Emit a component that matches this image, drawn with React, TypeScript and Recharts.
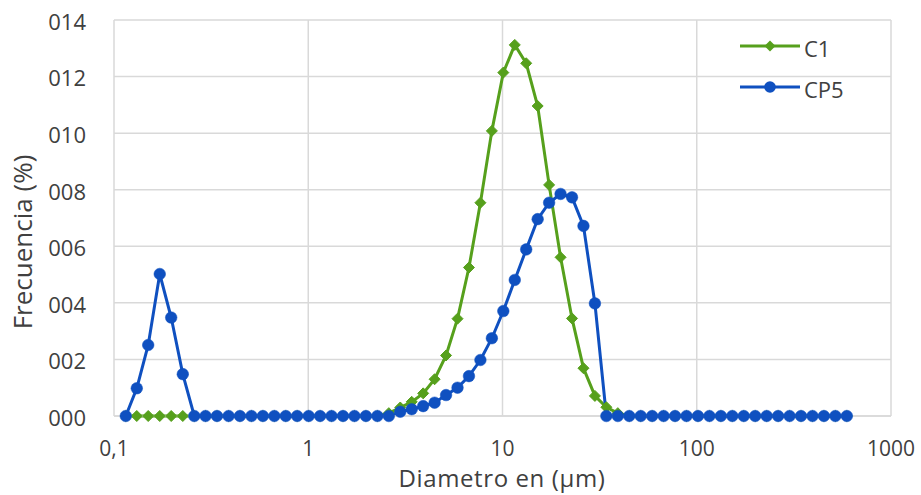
import React from "react";
import { LineChart, Line, XAxis, YAxis, CartesianGrid, Legend } from "recharts";

// Particle diameters (µm), log-spaced bins
const diameters = [
  0.115, 0.131, 0.15, 0.172, 0.197, 0.226, 0.259, 0.296, 0.339, 0.389, 0.445, 0.51, 0.584, 0.669, 0.766, 0.877,
  1.005, 1.151, 1.318, 1.51, 1.729, 1.981, 2.269, 2.599, 2.976, 3.409, 3.905, 4.472, 5.122, 5.867, 6.72, 7.697,
  8.816, 10.097, 11.565, 13.246, 15.172, 17.377, 19.904, 22.797, 26.111, 29.907, 34.255, 39.234, 44.938, 51.471,
  58.953, 67.523, 77.339, 88.583, 101.46, 116.21, 133.103, 152.453, 174.616, 200.0, 229.075, 262.376, 300.518,
  344.206, 394.244, 451.556, 517.2, 592.387,
];

const c1Values = [
  0, 0, 0, 0, 0, 0, 0, 0, 0, 0, 0, 0, 0, 0, 0, 0,
  0, 0, 0, 0, 0, 0, 0, 0.0001, 0.0003, 0.0005, 0.0008, 0.0013, 0.00214, 0.00344, 0.00525, 0.00754,
  0.01008, 0.01214, 0.01312, 0.01247, 0.01096, 0.00817, 0.00561, 0.00345, 0.00169, 0.00071, 0.00031, 0.0001, 0, 0,
  0, 0, 0, 0, 0, 0, 0, 0, 0, 0, 0, 0, 0,
  0, 0, 0, 0, 0,
];

const cp5Values = [
  0, 0.00098, 0.00251, 0.00502, 0.00348, 0.00148, 0, 0, 0, 0, 0, 0, 0, 0, 0, 0,
  0, 0, 0, 0, 0, 0, 0, 0, 0.00015, 0.00024, 0.00035, 0.00047, 0.00074, 0.001, 0.00141, 0.00198,
  0.00275, 0.00371, 0.00481, 0.00589, 0.00696, 0.00754, 0.00785, 0.00773, 0.00672, 0.00398, 0, 0, 0, 0,
  0, 0, 0, 0, 0, 0, 0, 0, 0, 0, 0, 0, 0,
  0, 0, 0, 0, 0,
];

const xTicks = [0.1, 1, 10, 100, 1000];
const xTickLabels = ["0,1", "1", "10", "100", "1000"];
const yTicks = [0, 0.002, 0.004, 0.006, 0.008, 0.01, 0.012, 0.014];
const yTickLabels = ["000", "002", "004", "006", "008", "010", "012", "014"];

const seriesNames = ["C1", "CP5"];
const GREEN = "#56a01c";
const BLUE = "#0f50c0";
const TEXT = "#404040";
const GRID = "#d9d9d9";
const FONT = "'Open Sans', sans-serif";

const data = diameters.map((d, i) => ({ d, c1: c1Values[i], cp5: cp5Values[i] }));

const Diamond = (props: any) => {
  const { cx, cy, index } = props;
  if (cx == null || cy == null) return <g key={`dm-${index}`} />;
  const r = 5.5;
  return (
    <path
      key={`dm-${index}`}
      d={`M${cx},${cy - r}L${cx + r},${cy}L${cx},${cy + r}L${cx - r},${cy}Z`}
      fill={GREEN}
      stroke={GREEN}
      strokeWidth={1}
    />
  );
};

const Circle = (props: any) => {
  const { cx, cy, index } = props;
  if (cx == null || cy == null) return <g key={`ci-${index}`} />;
  return <circle key={`ci-${index}`} cx={cx} cy={cy} r={5.8} fill={BLUE} stroke={BLUE} strokeWidth={0.5} />;
};

const LegendContent = () => (
  <svg width={130} height={70} style={{ overflow: "visible", display: "block" }}>
    <line x1={0} y1={16} x2={60} y2={16} stroke={GREEN} strokeWidth={3} />
    <path d="M30,10.5L35.5,16L30,21.5L24.5,16Z" fill={GREEN} />
    <text x={64} y={19} dy="0.35em" fontSize={22} fontFamily={FONT} fill={TEXT}>
      {seriesNames[0]}
    </text>
    <line x1={0} y1={57} x2={60} y2={57} stroke={BLUE} strokeWidth={3} />
    <circle cx={30} cy={57} r={5.8} fill={BLUE} />
    <text x={64} y={60} dy="0.35em" fontSize={22} fontFamily={FONT} fill={TEXT}>
      {seriesNames[1]}
    </text>
  </svg>
);

export default function App() {
  return (
    <div style={{ position: "absolute", left: 0, top: 0, width: 921, height: 495, background: "#fff" }}>
      <LineChart width={921} height={495} data={data} margin={{ top: 20, right: 30, bottom: 19, left: 0 }}>
        <CartesianGrid stroke={GRID} strokeWidth={1.5} />
        <XAxis
          dataKey="d"
          type="number"
          scale="log"
          domain={[0.1, 1000]}
          ticks={xTicks}
          allowDataOverflow
          tickFormatter={(v: number) => xTickLabels[xTicks.indexOf(v)] ?? String(v)}
          tickLine={false}
          axisLine={{ stroke: GRID, strokeWidth: 1.5 }}
          tick={{ fill: TEXT, fontSize: 21, fontFamily: FONT }}
          tickMargin={19}
          height={60}
          label={{
            content: () => (
              <text x={502} y={487} textAnchor="middle" fontSize={24} letterSpacing={0.6} fontFamily={FONT} fill={TEXT}>
                Diametro en (µm)
              </text>
            ),
          }}
        />
        <YAxis
          type="number"
          domain={[0, 0.014]}
          ticks={yTicks}
          tickFormatter={(v: number) => yTickLabels[yTicks.findIndex((t) => Math.abs(t - v) < 1e-9)] ?? ""}
          tickLine={false}
          axisLine={false}
          tick={{ fill: TEXT, fontSize: 22, fontFamily: FONT, dy: 2 }}
          tickMargin={22}
          width={114}
          label={{
            content: () => (
              <text
                x={32}
                y={242}
                textAnchor="middle"
                transform="rotate(-90 32 242)"
                fontSize={26}
                fontFamily={FONT}
                fill={TEXT}
              >
                Frecuencia (%)
              </text>
            ),
          }}
        />
        <Legend
          layout="vertical"
          verticalAlign="middle"
          align="center"
          content={<LegendContent />}
          wrapperStyle={{ position: "absolute", left: 740, top: 30, width: 130, height: 70 }}
        />
        <Line
          type="linear"
          dataKey="c1"
          name={seriesNames[0]}
          stroke={GREEN}
          strokeWidth={3}
          dot={Diamond}
          activeDot={false}
          isAnimationActive={false}
        />
        <Line
          type="linear"
          dataKey="cp5"
          name={seriesNames[1]}
          stroke={BLUE}
          strokeWidth={3}
          dot={Circle}
          activeDot={false}
          isAnimationActive={false}
        />
      </LineChart>
    </div>
  );
}
